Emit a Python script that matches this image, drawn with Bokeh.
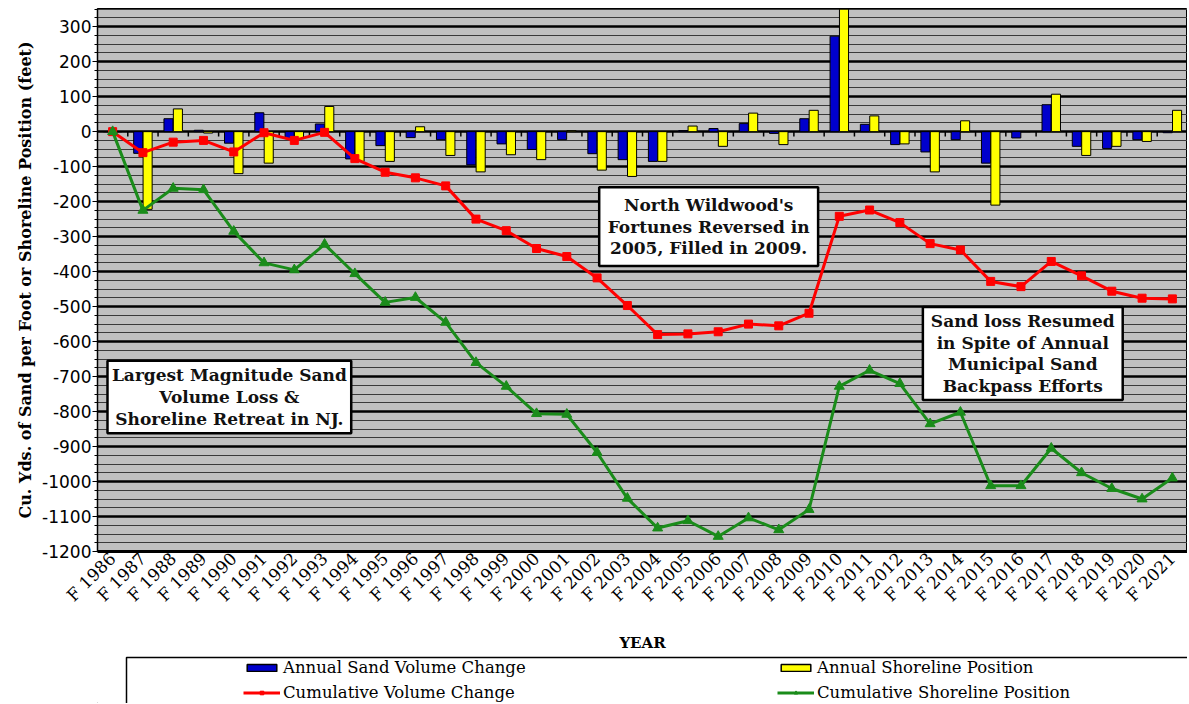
import math
from bokeh.plotting import figure
from bokeh.models import (ColumnDataSource, FactorRange, Range1d, SingleIntervalTicker,
                          Legend, LegendItem, PrintfTickFormatter)
from bokeh.transform import dodge
from bokeh.layouts import column
from bokeh.core.properties import value
from bokeh.embed import file_html
from bokeh.resources import INLINE

# ---------------- data ----------------
years = ["F 1986", "F 1987", "F 1988", "F 1989", "F 1990", "F 1991", "F 1992", "F 1993",
         "F 1994", "F 1995", "F 1996", "F 1997", "F 1998", "F 1999", "F 2000", "F 2001",
         "F 2002", "F 2003", "F 2004", "F 2005", "F 2006", "F 2007", "F 2008", "F 2009",
         "F 2010", "F 2011", "F 2012", "F 2013", "F 2014", "F 2015", "F 2016", "F 2017",
         "F 2018", "F 2019", "F 2020", "F 2021"]

annual_volume = [0, -62, 37, 4, -33, 54, -20, 22, -78, -40, -17, -23, -95, -35, -51, -23,
                 -63, -80, -85, 3, 9, 23, -5, 37, 273, 21, -37, -58, -23, -90, -18, 77,
                 -42, -48, -23, -3]

annual_shoreline = [0, -222, 65, -4, -120, -90, -20, 72, -85, -85, 14, -68, -115, -66, -80, 3,
                    -110, -128, -85, 16, -42, 53, -37, 61, 350, 45, -35, -115, 31, -210, 0, 107,
                    -68, -42, -28, 61]

cumulative_volume = [0, -60, -30, -25, -58, -3, -25, -2, -77, -116, -132, -155, -250, -283,
                     -334, -357, -418, -497, -580, -578, -572, -550, -555, -519, -242, -224,
                     -260, -320, -338, -428, -443, -371, -412, -456, -476, -478]

cumulative_shoreline = [0, -225, -162, -166, -285, -375, -395, -322, -406, -488, -474, -545,
                        -660, -728, -806, -808, -917, -1048, -1133, -1112, -1157, -1104, -1138,
                        -1080, -728, -682, -720, -835, -802, -1012, -1012, -905, -975, -1020,
                        -1050, -990]

legend_labels = ["Annual Sand Volume Change", "Annual Shoreline Position",
                 "Cumulative Volume Change", "Cumulative Shoreline Position"]

note_lines = [
    ["Largest Magnitude Sand", "Volume Loss &", "Shoreline Retreat in NJ."],
    ["North Wildwood's", "Fortunes Reversed in", "2005, Filled in 2009."],
    ["Sand loss Resumed", "in Spite of Annual", "Municipal Sand", "Backpass Efforts"],
]

# ---------------- layout of the text boxes (positions only) ----------------
note_boxes = [  # left, right (category units), bottom, top (value units)
    (0.33, 8.38, -862, -655),
    (16.57, 23.8, -384, -159),
    (27.26, 33.86, -767, -501),
]
note_line_pitch = 62

BLUE = "#0000CC"
YELLOW = "#FFFF00"
RED = "#FF0000"
GREEN = "#1A8C1A"
SERIF = "DejaVu Serif"

FRAME_W = 1090
LEFT = 97

src = ColumnDataSource(dict(cat=years, vol=annual_volume, shore=annual_shoreline,
                            cumvol=cumulative_volume, cumshore=cumulative_shoreline))

p = figure(x_range=FactorRange(*years), y_range=Range1d(-1200, 352),
           frame_width=FRAME_W, frame_height=543,
           min_border_left=LEFT, min_border_right=0, min_border_top=8, min_border_bottom=0,
           output_backend="svg", toolbar_location=None,
           background_fill_color="#C0C0C0", border_fill_color="white")
p.outline_line_color = "black"
p.outline_line_width = 1

ticker = SingleIntervalTicker(interval=100, num_minor_ticks=4)
p.yaxis.ticker = ticker
p.yaxis.formatter = PrintfTickFormatter(format="%d")
p.ygrid.ticker = ticker
p.ygrid.grid_line_color = "black"
p.ygrid.grid_line_width = 2.5
p.ygrid.minor_grid_line_color = "#3a3a3a"
p.ygrid.minor_grid_line_width = 1
p.xgrid.visible = False

p.yaxis.major_label_text_font = "DejaVu Sans"
p.yaxis.major_label_text_font_size = "17px"
p.yaxis.major_label_text_color = "black"
p.yaxis.major_tick_out = 5
p.yaxis.major_tick_in = 0
p.yaxis.minor_tick_out = 3
p.yaxis.minor_tick_in = 0
p.yaxis.major_label_standoff = 1
p.yaxis.axis_line_color = "black"
p.yaxis.axis_line_width = 1.5
p.yaxis.axis_label = "Cu. Yds. of Sand per Foot or Shoreline Position (feet)"
p.yaxis.axis_label_text_font = SERIF
p.yaxis.axis_label_text_font_style = "bold"
p.yaxis.axis_label_text_font_size = "16px"
p.yaxis.axis_label_text_color = "black"
p.yaxis.axis_label_standoff = 4

p.xaxis.major_label_orientation = math.pi / 4
p.xaxis.major_label_text_font = SERIF
p.xaxis.major_label_text_font_size = "17px"
p.xaxis.major_label_text_color = "black"
p.xaxis.major_tick_line_color = None
p.xaxis.major_tick_out = 0
p.xaxis.major_label_standoff = 4
p.xaxis.axis_line_color = "black"
p.xaxis.axis_line_width = 3
p.xaxis.axis_label = "YEAR"
p.xaxis.axis_label_text_font = SERIF
p.xaxis.axis_label_text_font_style = "bold"
p.xaxis.axis_label_text_font_size = "15px"
p.xaxis.axis_label_text_color = "black"
p.xaxis.axis_label_standoff = 19

# small ticks on the zero line at category boundaries
p.segment(x0=list(range(1, len(years))), x1=list(range(1, len(years))),
          y0=[0] * (len(years) - 1), y1=[-14] * (len(years) - 1),
          line_color="black", line_width=1.5)

p.vbar(x=dodge("cat", -0.155, range=p.x_range), top="vol", width=0.3, source=src,
       fill_color=BLUE, line_color="black", line_width=1)
p.vbar(x=dodge("cat", 0.155, range=p.x_range), top="shore", width=0.3, source=src,
       fill_color=YELLOW, line_color="black", line_width=1)

p.line(x="cat", y="cumvol", source=src, line_color=RED, line_width=3)
p.scatter(x="cat", y="cumvol", source=src, marker="square", size=8,
          fill_color=RED, line_color=RED)
p.line(x="cat", y="cumshore", source=src, line_color=GREEN, line_width=3)
p.scatter(x="cat", y="cumshore", source=src, marker="triangle", size=10,
          fill_color=GREEN, line_color=GREEN)

# annotation boxes
for (l, r, b, t), lines in zip(note_boxes, note_lines):
    p.quad(left=[l], right=[r], bottom=[b], top=[t], fill_color="white",
           line_color="black", line_width=2.5)
    cx = (l + r) / 2
    cy = (b + t) / 2
    n = len(lines)
    ys = [cy + (n - 1) / 2 * note_line_pitch - i * note_line_pitch for i in range(n)]
    p.text(x=[cx] * n, y=ys, text=lines, text_align="center", text_baseline="middle",
           text_font=value(SERIF), text_font_style="bold", text_font_size="17px",
           text_color="#111111")

# ---------------- legend strip (frame aligned with the chart frame) ----------------
LH = 48
lg = figure(frame_width=FRAME_W, height=LH, x_range=Range1d(0, FRAME_W),
            y_range=Range1d(0, LH),
            x_axis_type=None, y_axis_type=None,
            min_border_left=LEFT, min_border_right=0, min_border_top=0, min_border_bottom=0,
            output_backend="svg", toolbar_location=None,
            outline_line_color=None, background_fill_color="white",
            border_fill_color="white")
lg.grid.visible = False
lg.line(x=[29, 29, FRAME_W], y=[0, LH - 2, LH - 2], line_color="black", line_width=1.5)

dummy = ColumnDataSource(dict(x=[-1000], y=[-1000]))
r1 = lg.vbar(x="x", top="y", width=1, source=dummy, fill_color=BLUE, line_color="black",
             line_width=1.5)
r2 = lg.vbar(x="x", top="y", width=1, source=dummy, fill_color=YELLOW, line_color="black",
             line_width=1.5)
r3a = lg.line(x="x", y="y", source=dummy, line_color=RED, line_width=3)
r3b = lg.scatter(x="x", y="y", source=dummy, marker="square", size=8, fill_color=RED,
                 line_color=RED)
r4a = lg.line(x="x", y="y", source=dummy, line_color=GREEN, line_width=3)
r4b = lg.scatter(x="x", y="y", source=dummy, marker="triangle", size=9, fill_color=GREEN,
                 line_color=GREEN)

legend = Legend(items=[
    LegendItem(label=legend_labels[0], renderers=[r1]),
    LegendItem(label=legend_labels[1], renderers=[r2]),
    LegendItem(label=legend_labels[2], renderers=[r3a, r3b]),
    LegendItem(label=legend_labels[3], renderers=[r4a, r4b]),
], orientation="horizontal", ncols=2, location=(146, 1), margin=0, padding=0,
    spacing=6, glyph_width=37, glyph_height=9, label_height=18, label_width=488,
    label_standoff=3, label_text_font=SERIF, label_text_font_size="16.5px",
    label_text_color="black", border_line_color=None, background_fill_alpha=0)
lg.add_layout(legend, "center")

layout = column(p, lg, spacing=0)
open("out.html", "w").write(file_html(layout, INLINE))
